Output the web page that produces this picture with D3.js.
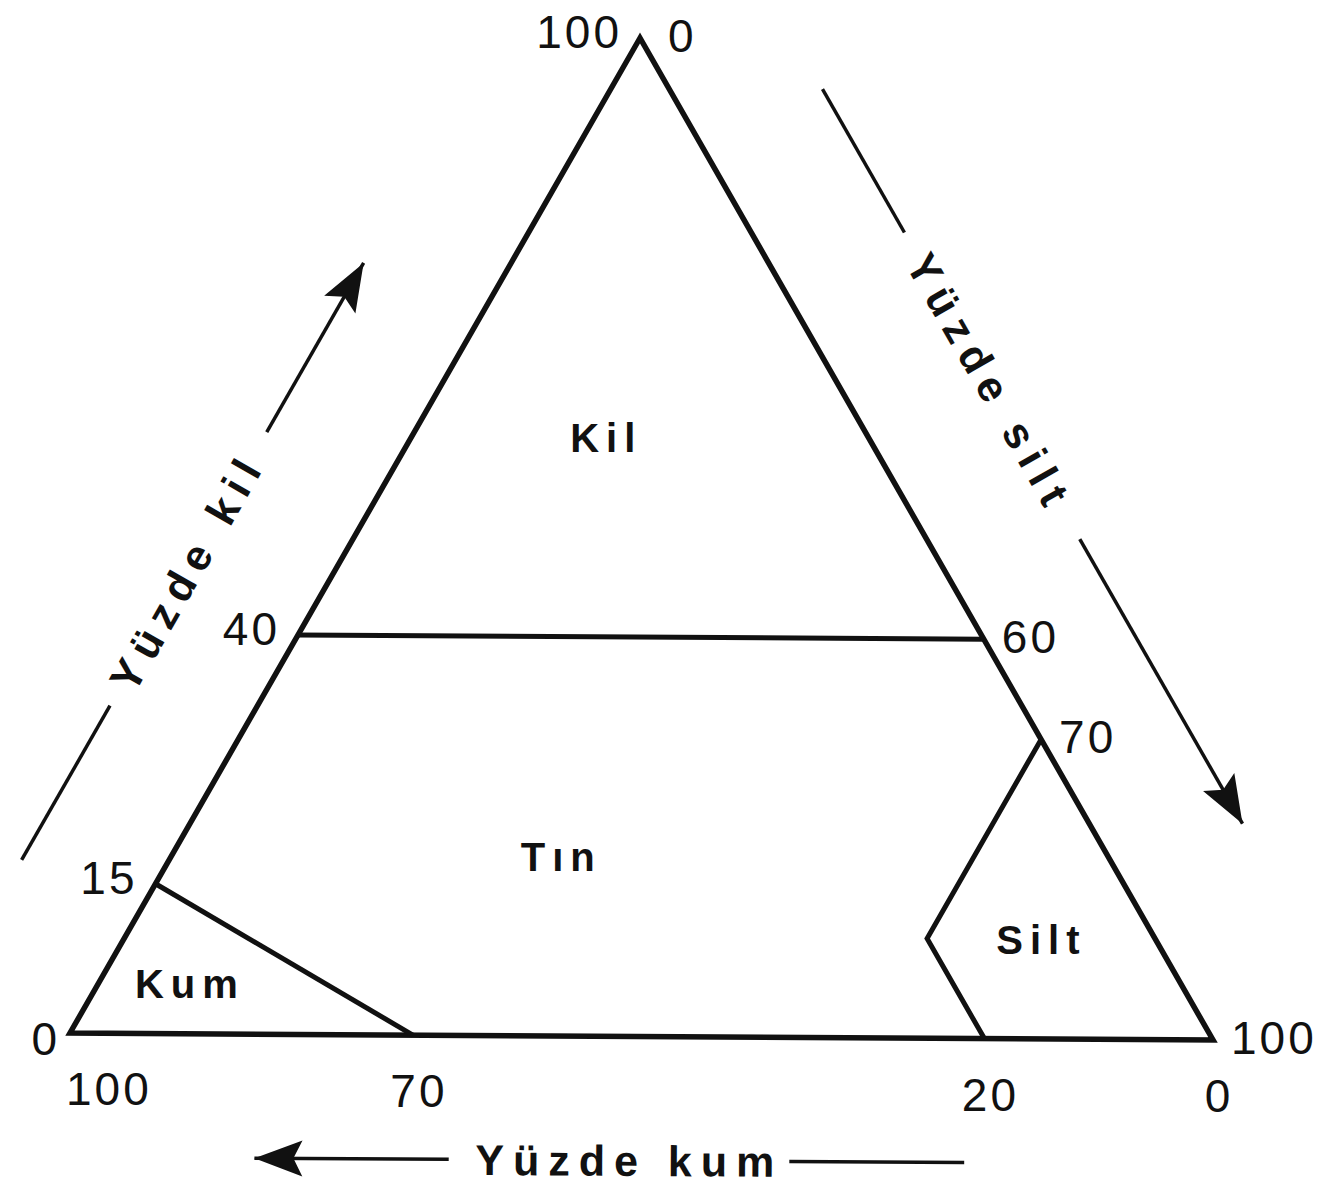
<!DOCTYPE html>
<html>
<head>
<meta charset="utf-8">
<script src="https://cdn.jsdelivr.net/npm/d3@7/dist/d3.min.js"></script>
<style>
  body { margin: 0; background: #fff; }
  svg { display: block; }
  .num { font-family: "Liberation Sans", Arial, sans-serif; font-size: 46px; fill: #111; letter-spacing: 3px; }
  .region { font-family: "Liberation Sans", Arial, sans-serif; font-size: 40px; font-weight: bold; fill: #111; letter-spacing: 7px; }
  .title { font-family: "Liberation Sans", Arial, sans-serif; font-size: 43px; font-weight: bold; fill: #111; letter-spacing: 9px; }
</style>
</head>
<body>
<div id="chart"></div>
<script>
// Soil texture triangle (clay / silt / sand, percent)

// compositions as [clay, silt, sand]
const cornerComps = [[100, 0, 0], [0, 0, 100], [0, 100, 0]];
const kilTinBoundary = [[40, 0, 60], [40, 60, 0]];
const kumBoundary = [[15, 0, 85], [0, 30, 70]];
const siltBoundary = [[30, 70, 0], [10, 70, 20], [0, 80, 20]];

const regionNames = ['Kil', 'Tın', 'Silt', 'Kum'];
const regionComps = [[60, 17, 23], [18, 34, 48], [10, 80, 10], [5, 8, 87]];

const clayTicks = [0, 15, 40, 100];   // left edge
const siltTicks = [0, 60, 70, 100];   // right edge
const sandTicks = [100, 70, 20, 0];   // bottom edge

const axisTitles = ['Yüzde kil', 'Yüzde silt', 'Yüzde kum'];

const W = 1331, H = 1187;
// triangle corners on screen (scan is slightly skewed)
const A = { x: 640, y: 38 };    // clay 100
const L = { x: 70, y: 1033 };   // sand 100
const R = { x: 1213, y: 1040 }; // silt 100

const siltX = d3.scaleLinear().domain([0, 100]).range([0, R.x - L.x]);
const siltY = d3.scaleLinear().domain([0, 100]).range([0, R.y - L.y]);
const clayX = d3.scaleLinear().domain([0, 100]).range([0, A.x - L.x]);
const clayY = d3.scaleLinear().domain([0, 100]).range([0, A.y - L.y]);

function project(c) {
  return [L.x + siltX(c[1]) + clayX(c[0]), L.y + siltY(c[1]) + clayY(c[0])];
}

const svg = d3.select('#chart').append('svg')
  .attr('width', W)
  .attr('height', H)
  .attr('viewBox', `0 0 ${W} ${H}`);

const line = d3.line();

// outer triangle
svg.append('path')
  .attr('d', line(cornerComps.map(project)) + 'Z')
  .attr('fill', 'none')
  .attr('stroke', '#111')
  .attr('stroke-width', 5.5)
  .attr('stroke-linejoin', 'miter');

// class boundaries
for (const b of [kilTinBoundary, kumBoundary, siltBoundary]) {
  svg.append('path')
    .attr('d', line(b.map(project)))
    .attr('fill', 'none')
    .attr('stroke', '#111')
    .attr('stroke-width', 5);
}

// region names
svg.selectAll('.region')
  .data(regionNames)
  .join('text')
  .attr('class', 'region')
  .attr('x', (d, i) => project(regionComps[i])[0])
  .attr('y', (d, i) => project(regionComps[i])[1])
  .attr('dy', '0.36em')
  .attr('text-anchor', 'middle')
  .text(d => d);

// edge numbers
svg.selectAll('.clay-tick')
  .data(clayTicks)
  .join('text')
  .attr('class', 'num clay-tick')
  .attr('x', d => project([d, 0, 100 - d])[0] - (d === 0 ? 10 : 18))
  .attr('y', d => project([d, 0, 100 - d])[1] + (d === 0 ? 22 : 10))
  .attr('text-anchor', 'end')
  .text(d => d);

svg.selectAll('.silt-tick')
  .data(siltTicks)
  .join('text')
  .attr('class', 'num silt-tick')
  .attr('x', d => project([100 - d, d, 0])[0] + (d === 0 ? 28 : 18))
  .attr('y', d => project([100 - d, d, 0])[1] + 14)
  .attr('text-anchor', 'start')
  .text(d => d);

svg.selectAll('.sand-tick')
  .data(sandTicks)
  .join('text')
  .attr('class', 'num sand-tick')
  .attr('x', d => project([0, 100 - d, d])[0] + (d === 100 ? -4 : 6))
  .attr('y', d => project([0, 100 - d, d])[1] + 72)
  .attr('text-anchor', d => d === 100 ? 'start' : 'middle')
  .text(d => d);

// axis title with guide lines running parallel to an edge
function edgePoint(p0, p1, t, off) {
  const dx = p1[0] - p0[0], dy = p1[1] - p0[1];
  const len = Math.hypot(dx, dy);
  const nx = dy / len, ny = -dx / len;
  return [p0[0] + dx * t + nx * off, p0[1] + dy * t + ny * off];
}

function arrowHead(tip, from) {
  const dx = tip[0] - from[0], dy = tip[1] - from[1];
  const len = Math.hypot(dx, dy);
  const ux = dx / len, uy = dy / len;
  const hl = 48, hw = 18;
  const bx = tip[0] - ux * hl, by = tip[1] - uy * hl;
  svg.append('path')
    .attr('d', line([tip, [bx - uy * hw, by + ux * hw], [bx + ux * 9, by + uy * 9], [bx + uy * hw, by - ux * hw]]) + 'Z')
    .attr('fill', '#111');
}

// seg1 before the title, seg2 after it (in the p0 -> p1 direction); arrow ends seg2
function axisGuide(p0, p1, off, seg1, seg2, textT, label) {
  for (const s of [seg1, seg2]) {
    svg.append('path')
      .attr('d', line([edgePoint(p0, p1, s[0], off), edgePoint(p0, p1, s[1], off)]))
      .attr('stroke', '#111')
      .attr('stroke-width', 3.5);
  }
  arrowHead(edgePoint(p0, p1, seg2[1], off), edgePoint(p0, p1, seg2[0], off));
  const c = edgePoint(p0, p1, textT, off);
  let ang = Math.atan2(p1[1] - p0[1], p1[0] - p0[0]) * 180 / Math.PI;
  if (ang > 90) ang -= 180;
  if (ang < -90) ang += 180;
  svg.append('text')
    .attr('class', 'title')
    .attr('transform', `translate(${c[0]},${c[1]}) rotate(${ang})`)
    .attr('dy', '0.36em')
    .attr('text-anchor', 'middle')
    .text(label);
}

const pL = project(cornerComps[1]), pA = project(cornerComps[0]), pR = project(cornerComps[2]);
// left edge, clay rising toward apex
axisGuide(pL, pA, 128, [0.11, 0.265], [0.54, 0.71], 0.40, axisTitles[0]);
// right edge, silt rising toward bottom-right
axisGuide(pA, pR, 133, [0.117, 0.26], [0.566, 0.85], 0.41, axisTitles[1]);
// bottom edge, sand rising toward left
axisGuide(pR, pL, 124, [0.217, 0.37], [0.668, 0.838], 0.51, axisTitles[2]);
</script>
</body>
</html>
